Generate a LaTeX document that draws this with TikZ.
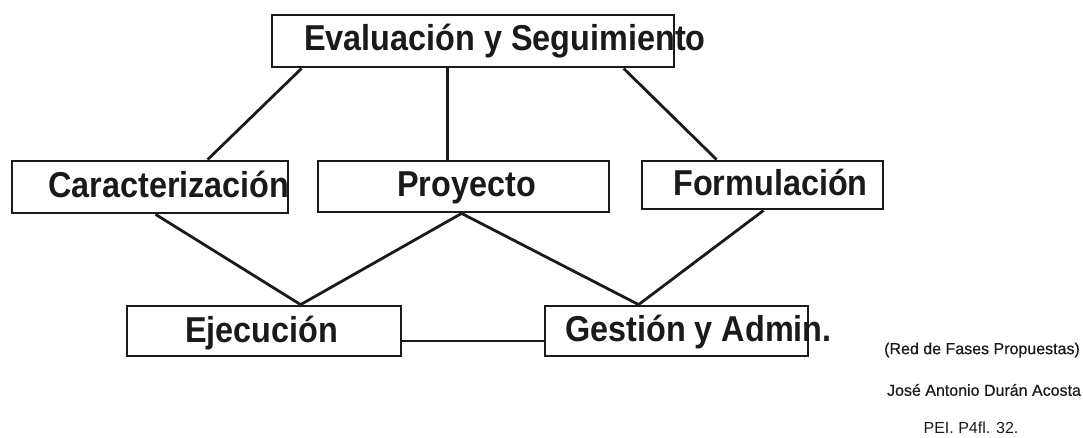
\documentclass[tikz,border=0pt]{standalone}
\usepackage{fontspec}
\setmainfont{Liberation Sans}
\newfontfamily\boxfont[FakeStretch=0.9]{Liberation Sans}
\newfontfamily\notefont[FakeBold=0.6]{Liberation Sans}
\definecolor{ink}{HTML}{1A1A1A}
\begin{document}
\begin{tikzpicture}[x=1pt,y=-1pt,
  box/.style={draw=ink,line width=2.8pt,rectangle,inner sep=0pt,fill=white},
  lbl/.style={inner sep=0pt,anchor=base west,text=ink,font=\boxfont\bfseries\fontsize{36}{40}\selectfont},
  note/.style={inner sep=0pt,text=ink,font=\notefont\fontsize{16}{18}\selectfont},
  plain/.style={inner sep=0pt,text=ink,font=\fontsize{16}{18}\selectfont},
  link/.style={draw=ink,line width=2.8pt}]
\useasboundingbox (0,0) rectangle (1083,437);
\node[box,minimum width=402pt,minimum height=52pt] (eval) at (473,41) {};
\node[box,minimum width=276pt,minimum height=52pt] (car) at (150,187) {};
\node[box,minimum width=291pt,minimum height=51pt] (pro) at (463.5,186.5) {};
\node[box,minimum width=241pt,minimum height=48pt] (for) at (762.5,185) {};
\node[box,minimum width=274pt,minimum height=50pt] (eje) at (264,331) {};
\node[box,minimum width=263pt,minimum height=50pt] (ges) at (676.5,331) {};
\draw[link] ([xshift=31pt]eval.south west) -- ([xshift=197pt]car.north west);
\draw[link] ([xshift=177pt]eval.south west) -- ([xshift=131pt]pro.north west);
\draw[link] ([xshift=353pt]eval.south west) -- ([xshift=76pt]for.north west);
\draw[link] ([xshift=145pt]car.south west) -- ([xshift=175pt]eje.north west);
\draw[link] ([xshift=145pt]pro.south west) -- ([xshift=175pt]eje.north west);
\draw[link] ([xshift=145pt]pro.south west) -- ([xshift=95pt]ges.north west);
\draw[link] ([xshift=123pt]for.south west) -- ([xshift=95pt]ges.north west);
\draw[link] ([yshift=-10pt]eje.east) -- ([yshift=-10pt]ges.west);
\node[lbl] (tEval) at (304,50) {Evaluación y Seguimiento};
\node[lbl] (tCar) at (48,197) {Caracterización};
\node[lbl] (tPro) at (397,196) {Proyecto};
\node[lbl] (tFor) at (673,195) {Formulación};
\node[lbl] (tEje) at (185,342) {Ejecución};
\node[lbl] (tGes) at (565,341) {Gestión y Admin.};
\node[note] (n1) at (982,350) {(Red de Fases Propuestas)};
\node[note] (n2) at (984,390) {José Antonio Durán Acosta};
\node[plain] (n3) at (971,428) {PEI. P4fl. 32.};
\end{tikzpicture}
\end{document}
